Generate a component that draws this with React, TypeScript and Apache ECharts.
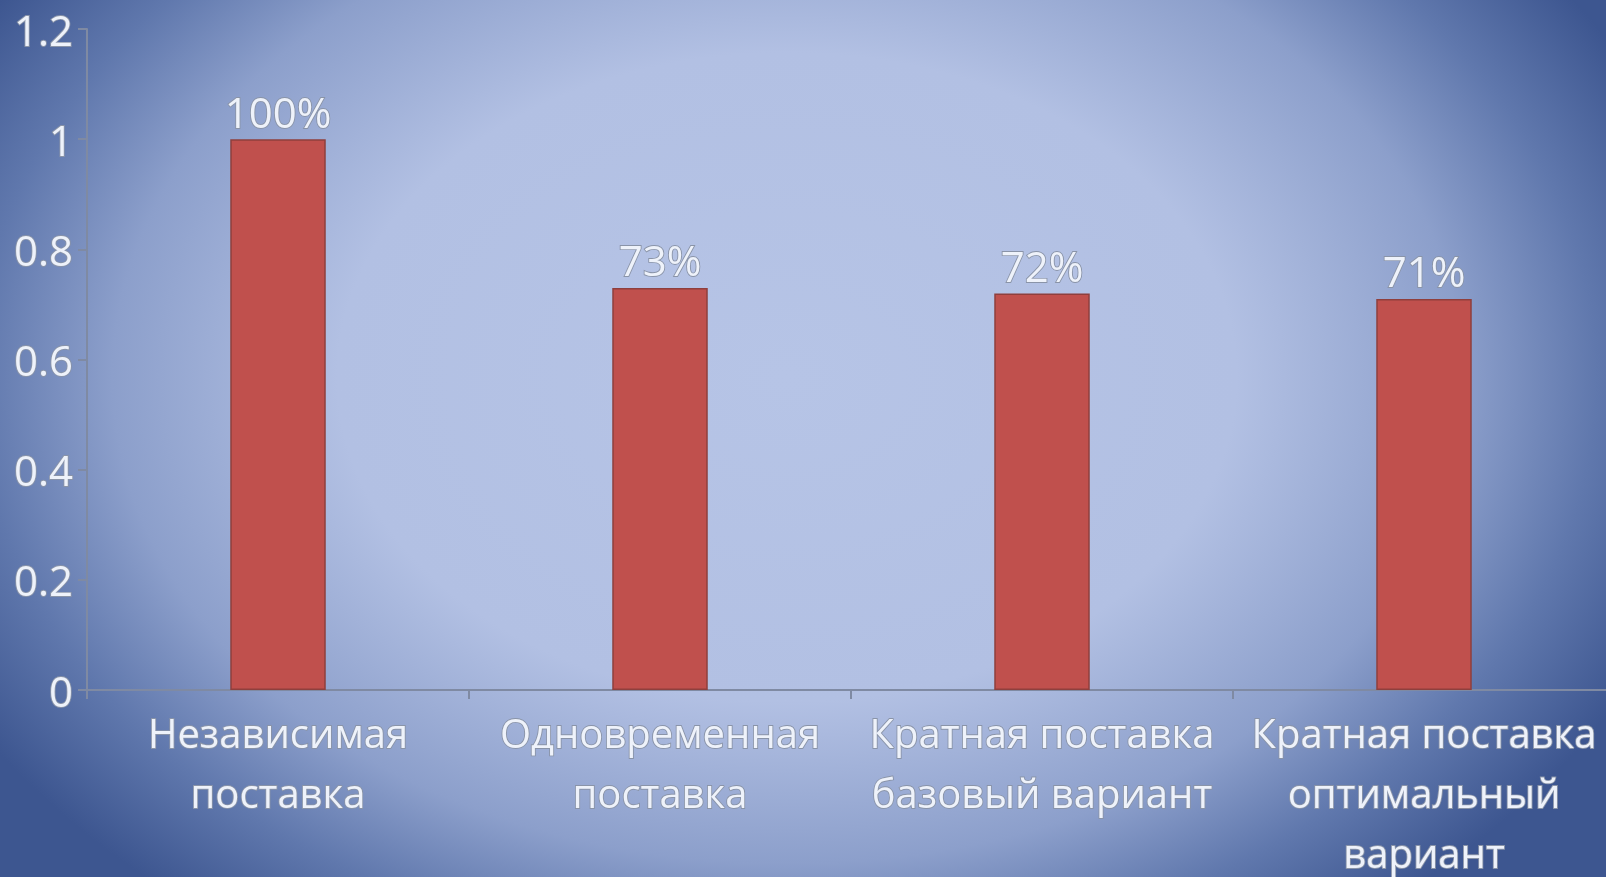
import React, { useEffect, useRef } from "react";
import * as echarts from "echarts";

const categories: string[] = [
  "Независимая\nпоставка",
  "Одновременная\nпоставка",
  "Кратная поставка\nбазовый вариант",
  "Кратная поставка\nоптимальный\nвариант",
];
const values: number[] = [1.0, 0.73, 0.72, 0.71];
const percentLabels: string[] = ["100%", "73%", "72%", "71%"];
const yTicks = { min: 0, max: 1.2, interval: 0.2 };

const FONT = "'Open Sans', 'Noto Sans', sans-serif";
const TEXT_FILL = "#eef2fa";
const TEXT_STROKE = "#8a94a8";

export default function App() {
  const ref = useRef<HTMLDivElement>(null);
  useEffect(() => {
    if (!ref.current) return;
    const chart = echarts.init(ref.current, undefined, { renderer: "svg" });
    chart.setOption({
      animation: false,
      backgroundColor: "transparent",
      grid: {
        left: 87,
        top: 29,
        width: 1528,
        height: 661,
        containLabel: false,
        outerBoundsMode: "none",
      },
      xAxis: {
        type: "category",
        data: categories,
        axisLine: { show: true, lineStyle: { color: "#7f8aa3", width: 2 } },
        axisTick: { show: true, length: 9, lineStyle: { color: "#7f8aa3", width: 2 } },
        axisLabel: {
          interval: 0,
          margin: 12,
          fontFamily: FONT,
          fontSize: 40,
          lineHeight: 60,
          color: TEXT_FILL,
          textBorderColor: TEXT_STROKE,
          textBorderWidth: 1.8,
        },
        splitLine: { show: false },
      },
      yAxis: {
        type: "value",
        min: yTicks.min,
        max: yTicks.max,
        interval: yTicks.interval,
        axisLine: { show: true, lineStyle: { color: "#7f8aa3", width: 2 } },
        axisTick: { show: true, length: 9, lineStyle: { color: "#7f8aa3", width: 2 } },
        splitLine: { show: false },
        axisLabel: {
          margin: 14,
          fontFamily: FONT,
          fontSize: 42,
          color: TEXT_FILL,
          textBorderColor: TEXT_STROKE,
          textBorderWidth: 1.8,
          formatter: (v: number) => String(Math.round(v * 10) / 10),
        },
      },
      series: [
        {
          type: "bar",
          data: values,
          barWidth: "25%",
          itemStyle: { color: "#c0504d", borderColor: "#8f3f3d", borderWidth: 1.5 },
          label: {
            show: true,
            position: "top",
            distance: 7,
            fontFamily: FONT,
            fontSize: 42,
            color: TEXT_FILL,
            textBorderColor: TEXT_STROKE,
            textBorderWidth: 1.8,
            formatter: (p: any) => percentLabels[p.dataIndex],
          },
        },
      ],
    });
    return () => chart.dispose();
  }, []);
  return (
    <div
      style={{
        position: "fixed",
        left: 0,
        top: 0,
        width: 1606,
        height: 877,
        background:
          "radial-gradient(ellipse 56% 74% at 49% 43%, #b6c4e6 0%, #b2c0e3 50%, #8c9fcb 75%, #6078ad 90%, #3d5690 105%)",
      }}
    >
      <div ref={ref} style={{ width: 1606, height: 877 }} />
    </div>
  );
}
